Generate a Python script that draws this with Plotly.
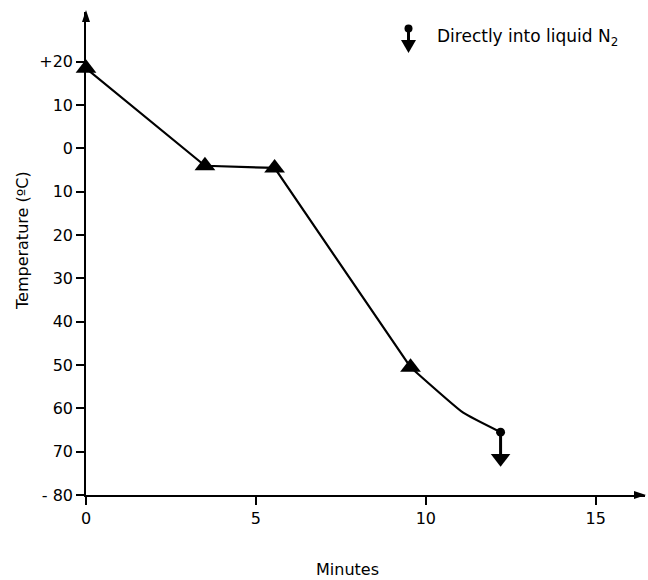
import plotly.graph_objects as go

# Data
minutes = [0, 3.5, 5.55, 9.55]
temps = [18.5, -4, -4.5, -50.5]
tail_minutes = [9.55, 11.1, 12.2]
tail_temps = [-50.5, -61, -65.5]
drop_minute = [12.2]
drop_start = [-65.5]
drop_end = [-71.5]

x_ticks = [0, 5, 10, 15]
x_ticklabels = ["0", "5", "10", "15"]
y_ticks = [20, 10, 0, -10, -20, -30, -40, -50, -60, -70, -80]
y_ticklabels = ["+20", "10", "0", "10", "20", "30", "40", "50", "60", "70", "- 80"]

FONT = "DejaVu Sans, Liberation Sans, Arial, sans-serif"

fig = go.Figure()

fig.add_trace(go.Scatter(
    x=tail_minutes, y=tail_temps, mode="lines",
    line=dict(color="black", width=2.2, shape="spline", smoothing=0.4),
    cliponaxis=False, showlegend=False, hoverinfo="skip"))
fig.add_trace(go.Scatter(
    x=minutes, y=temps, mode="lines+markers",
    line=dict(color="black", width=2.2),
    marker=dict(symbol="triangle-up", size=18, color="black"),
    cliponaxis=False, showlegend=False))
fig.add_trace(go.Scatter(
    x=drop_minute * 2, y=drop_start + drop_end, mode="lines",
    line=dict(color="black", width=3),
    cliponaxis=False, showlegend=False, hoverinfo="skip"))
fig.add_trace(go.Scatter(
    x=drop_minute, y=drop_start, mode="markers",
    marker=dict(symbol="circle", size=9, color="black"),
    cliponaxis=False, showlegend=False))
fig.add_trace(go.Scatter(
    x=drop_minute, y=drop_end, mode="markers",
    marker=dict(symbol="triangle-down", size=17, color="black"),
    cliponaxis=False, showlegend=False))

X_MAX = 16.45
Y_MAX = 31.5

W, H = 648, 580
L, R, T, B = 86, 3, 12, 85
pw, ph = W - L - R, H - T - B

def px(x):
    return (x - L) / pw

def py(y):
    return (H - B - y) / ph

fig.update_layout(
    width=W, height=H,
    margin=dict(l=L, r=R, t=T, b=B),
    paper_bgcolor="white", plot_bgcolor="white",
    font=dict(family=FONT, size=16, color="black"),
    xaxis=dict(range=[0, X_MAX], tickvals=x_ticks, ticktext=x_ticklabels,
               showgrid=False, zeroline=False, showline=True, linecolor="black",
               linewidth=1.5, ticks="outside", ticklen=8, tickwidth=1.5,
               tickcolor="black", tickfont=dict(size=16)),
    yaxis=dict(range=[-80, Y_MAX], tickvals=y_ticks, ticktext=y_ticklabels,
               showgrid=False, zeroline=False, showline=True, linecolor="black",
               linewidth=1.5, ticks="outside", ticklen=8, tickwidth=1.5,
               tickcolor="black", tickfont=dict(size=16)),
    annotations=[
        dict(x=px(347), y=py(569), xref="paper", yref="paper", text="Minutes",
             showarrow=False, xanchor="center", yanchor="middle",
             font=dict(size=16)),
        dict(x=px(22), y=py(241), xref="paper", yref="paper",
             text="Temperature (ºC)", textangle=-90, showarrow=False,
             xanchor="center", yanchor="middle", font=dict(size=16)),
        dict(x=px(435), y=py(37), xref="paper", yref="paper",
             text="Directly into liquid N<sub>2</sub>", showarrow=False,
             xanchor="left", yanchor="middle", font=dict(size=17)),
    ],
)

# axis arrow heads
ax_x, ax_y = L, H - B
fig.add_shape(type="path", xref="paper", yref="paper",
              path=f"M {px(W - 2)} {py(ax_y)} L {px(W - 14)} {py(ax_y - 4)} "
                   f"L {px(W - 14)} {py(ax_y + 4)} Z",
              fillcolor="black", line=dict(color="black", width=0))
fig.add_shape(type="path", xref="paper", yref="paper",
              path=f"M {px(ax_x)} {py(T - 2)} L {px(ax_x - 4)} {py(T + 10)} "
                   f"L {px(ax_x + 4)} {py(T + 10)} Z",
              fillcolor="black", line=dict(color="black", width=0))

# legend symbol (dot + stem + arrow head)
fig.add_shape(type="circle", xref="paper", yref="paper",
              x0=px(404.5), x1=px(412.5), y0=py(32.5), y1=py(24.5),
              fillcolor="black", line=dict(color="black", width=0))
fig.add_shape(type="line", xref="paper", yref="paper",
              x0=px(408.5), x1=px(408.5), y0=py(29), y1=py(42),
              line=dict(color="black", width=3))
fig.add_shape(type="path", xref="paper", yref="paper",
              path=f"M {px(401)} {py(40)} L {px(416)} {py(40)} L {px(408.5)} {py(53)} Z",
              fillcolor="black", line=dict(color="black", width=0))

fig.write_html("out.html")
